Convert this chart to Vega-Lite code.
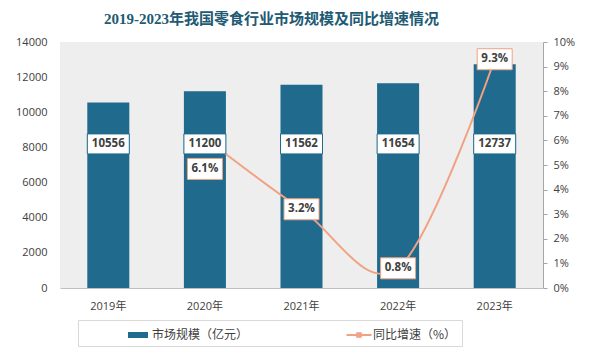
{
  "$schema": "https://vega.github.io/schema/vega-lite/v6.json",
  "width": 483,
  "height": 246,
  "autosize": {"type": "none"},
  "padding": {"left": 60, "top": 42, "right": 50, "bottom": 76},
  "background": "#ffffff",
  "title": {
    "text": "2019-2023年我国零食行业市场规模及同比增速情况",
    "font": "Liberation Serif, Noto Sans CJK SC",
    "fontSize": 15,
    "fontWeight": "bold",
    "color": "#215a72",
    "anchor": "middle",
    "frame": "group",
    "dx": -30,
    "offset": 9
  },
  "data": {
    "values": [
      {"year": "2019年", "size": 10556, "growth": null},
      {"year": "2020年", "size": 11200, "growth": 6.1},
      {"year": "2021年", "size": 11562, "growth": 3.2},
      {"year": "2022年", "size": 11654, "growth": 0.8},
      {"year": "2023年", "size": 12737, "growth": 9.3}
    ]
  },
  "encoding": {
    "x": {
      "field": "year",
      "type": "nominal",
      "sort": null,
      "scale": {"paddingInner": 0, "paddingOuter": 0},
      "axis": {
        "title": null,
        "labelAngle": 0,
        "ticks": false,
        "grid": false,
        "domainColor": "#bfbfbf",
        "labelPadding": 12,
        "labelFontSize": 11,
        "labelColor": "#404040"
      }
    }
  },
  "layer": [
    {
      "mark": {"type": "bar", "width": {"band": 0.435}},
      "encoding": {
        "y": {
          "field": "size",
          "type": "quantitative",
          "scale": {"domain": [0, 14000]},
          "axis": {
            "title": null,
            "values": [0, 2000, 4000, 6000, 8000, 10000, 12000, 14000],
            "format": "d",
            "domain": false,
            "ticks": false,
            "grid": false,
            "labelPadding": 13,
            "labelFontSize": 11,
            "labelColor": "#404040"
          }
        },
        "color": {
          "datum": "市场规模（亿元）",
          "type": "nominal",
          "scale": {
            "domain": ["市场规模（亿元）", "同比增速（%）"],
            "range": ["#1f6a8d", "#f0a283"]
          },
          "legend": {
            "orient": "none",
            "legendX": 18,
            "legendY": 278,
            "direction": "horizontal",
            "title": null,
            "strokeColor": "#d9d9d9",
            "padding": 5,
            "symbolSize": 400,
            "symbolOffset": 45,
            "labelFontSize": 12,
            "labelColor": "#404040",
            "labelFont": "Noto Sans CJK SC",
            "labelOffset": 4,
            "columnPadding": 55,
            "encode": {
              "symbols": {
                "update": {
                  "shape": {"signal": "datum.value === '市场规模（亿元）' ? 'M-1,-0.3H1V0.3H-1Z' : 'M-1.25,-0.1H1.25V0.1H-1.25Z M-0.28,-0.28H0.28V0.28H-0.28Z'"},
                  "fill": {"signal": "datum.value === '市场规模（亿元）' ? '#1f6a8d' : '#f0a283'"},
                  "fillOpacity": {"value": 1},
                  "strokeWidth": {"value": 0}
                }
              }
            }
          }
        }
      }
    },
    {
      "transform": [{"filter": "datum.growth != null"}],
      "mark": {"type": "line", "interpolate": "cardinal", "strokeWidth": 2},
      "encoding": {
        "y": {
          "field": "growth",
          "type": "quantitative",
          "scale": {"domain": [0, 10]},
          "axis": {
            "orient": "right",
            "title": null,
            "values": [0, 1, 2, 3, 4, 5, 6, 7, 8, 9, 10],
            "labelExpr": "datum.value + '%'",
            "grid": false,
            "domainColor": "#a6a6a6",
            "tickColor": "#a6a6a6",
            "tickSize": 4,
            "labelPadding": 6,
            "labelFontSize": 11,
            "labelColor": "#404040"
          }
        },
        "color": {"datum": "同比增速（%）", "type": "nominal"}
      }
    },
    {
      "layer": [
        {
          "mark": {
            "type": "point",
            "shape": "M-1,-0.476H1V0.476H-1Z",
            "size": 1764,
            "filled": true,
            "fill": "#ffffff",
            "fillOpacity": 1,
            "stroke": "#1f6a8d",
            "strokeWidth": 1,
            "strokeOpacity": 1,
            "opacity": 1
          },
          "encoding": {
            "y": {"datum": 8200, "type": "quantitative", "scale": {"domain": [0, 14000]}, "axis": null}
          }
        },
        {
          "mark": {"type": "text", "font": "Open Sans", "fontSize": 11.5, "fontWeight": "bold", "color": "#404040"},
          "encoding": {
            "y": {"datum": 8200, "type": "quantitative", "scale": {"domain": [0, 14000]}, "axis": null},
            "text": {"field": "size", "type": "quantitative", "format": "d"}
          }
        }
      ]
    },
    {
      "transform": [
        {"filter": "datum.growth != null"},
        {"calculate": "format(datum.growth, '.1f') + '%'", "as": "growthLabel"}
      ],
      "encoding": {
        "y": {"field": "growth", "type": "quantitative", "scale": {"domain": [0, 10]}, "axis": null}
      },
      "layer": [
        {
          "transform": [{"filter": "datum.year !== '2020年'"}],
          "mark": {
            "type": "point",
            "shape": "M-1,-0.6H1V0.6H-1Z",
            "size": 1225,
            "filled": true,
            "fill": "#ffffff",
            "fillOpacity": 1,
            "stroke": "#f0a283",
            "strokeWidth": 1,
            "strokeOpacity": 1,
            "opacity": 1
          }
        },
        {
          "transform": [{"filter": "datum.year !== '2020年'"}],
          "mark": {"type": "text", "font": "Open Sans", "fontSize": 11.5, "fontWeight": "bold", "color": "#404040"},
          "encoding": {"text": {"field": "growthLabel", "type": "nominal"}}
        },
        {
          "transform": [{"filter": "datum.year === '2020年'"}],
          "mark": {
            "type": "point",
            "shape": "M-1,1.171H1V2.371H-1Z",
            "size": 1225,
            "filled": true,
            "fill": "#ffffff",
            "fillOpacity": 1,
            "stroke": "#f0a283",
            "strokeWidth": 1,
            "strokeOpacity": 1,
            "opacity": 1
          }
        },
        {
          "transform": [{"filter": "datum.year === '2020年'"}],
          "mark": {"type": "text", "dy": 31, "font": "Open Sans", "fontSize": 11.5, "fontWeight": "bold", "color": "#404040"},
          "encoding": {"text": {"field": "growthLabel", "type": "nominal"}}
        }
      ]
    }
  ],
  "resolve": {"scale": {"y": "independent"}},
  "config": {
    "view": {"stroke": null, "fill": "#eeeeee"},
    "font": "Noto Sans CJK SC",
    "axis": {"labelFont": "Open Sans, Noto Sans CJK SC"}
  }
}
